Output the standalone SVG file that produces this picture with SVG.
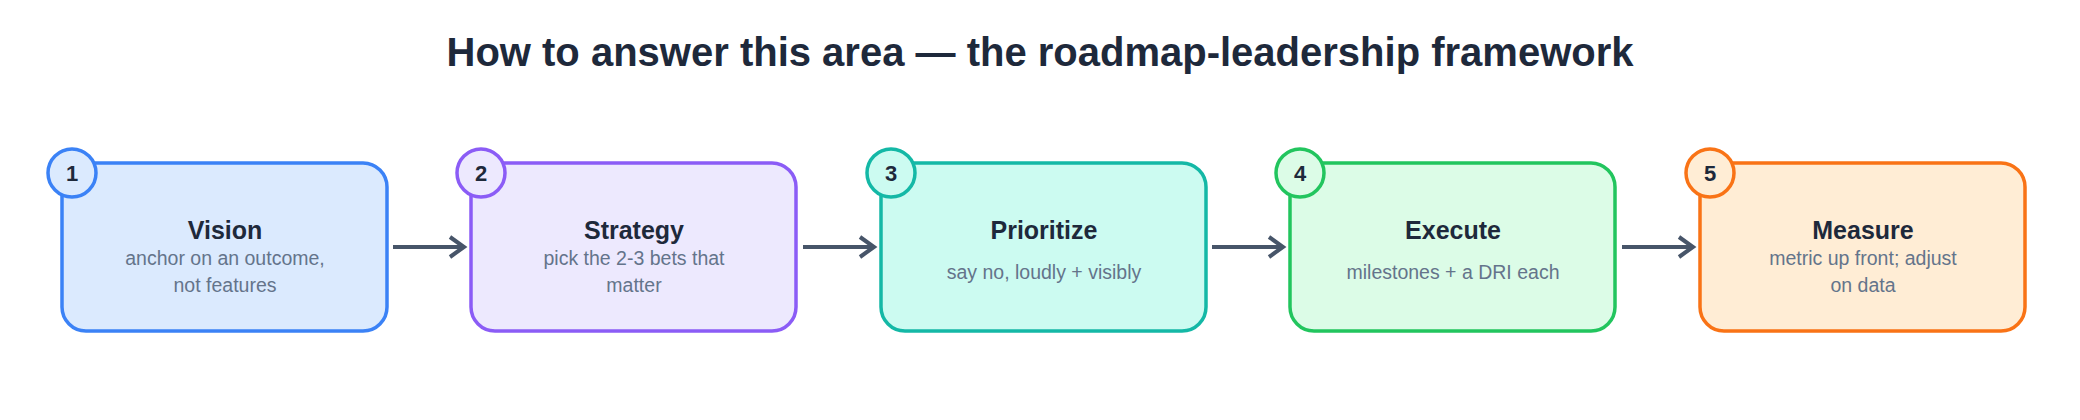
<svg xmlns="http://www.w3.org/2000/svg" width="2080" height="420" viewBox="0 0 2080 420">
<style>
.t{font-family:"Liberation Sans",Arial,sans-serif;text-anchor:middle}
.h{font-size:40px;font-weight:bold;fill:#1e293b}
.n{font-size:25px;font-weight:bold;fill:#1e293b}
.s{font-size:19.5px;fill:#64748b}
.c{font-size:22px;font-weight:bold;fill:#1e293b}
.b{stroke-width:3.5}
.e{stroke:#475569;stroke-width:4;fill:none}
</style>
<defs><marker id="a" viewBox="0 0 12 12" refX="10" refY="6" markerWidth="6" markerHeight="6" orient="auto" markerUnits="userSpaceOnUse"><path d="M1,1 L10,6 L1,11" fill="none" stroke="#475569" stroke-width="1" transform="scale(1)"/></marker></defs>
<rect width="2080" height="420" fill="#fff"/>
<text class="t h" x="1040" y="66">How to answer this area — the roadmap-leadership framework</text>
<g id="connectors">
<path class="e" d="M393,247 H463"/><path class="e" d="M450,237 L464,247 L450,257"/>
<path class="e" d="M803,247 H873"/><path class="e" d="M860,237 L874,247 L860,257"/>
<path class="e" d="M1212,247 H1282"/><path class="e" d="M1269,237 L1283,247 L1269,257"/>
<path class="e" d="M1622,247 H1692"/><path class="e" d="M1679,237 L1693,247 L1679,257"/>
</g>
<g id="n1"><rect class="b" x="62" y="163" width="325" height="168" rx="24" fill="#dbeafe" stroke="#3b82f6"/><circle class="b" cx="72" cy="173" r="24" fill="#dbeafe" stroke="#3b82f6"/><text class="t c" x="72" y="181">1</text>
<text class="t n" x="225" y="239">Vision</text><text class="t s" x="225" y="265">anchor on an outcome,</text><text class="t s" x="225" y="292">not features</text></g>
<g id="n2"><rect class="b" x="471" y="163" width="325" height="168" rx="24" fill="#ede9fe" stroke="#8b5cf6"/><circle class="b" cx="481" cy="173" r="24" fill="#ede9fe" stroke="#8b5cf6"/><text class="t c" x="481" y="181">2</text>
<text class="t n" x="634" y="239">Strategy</text><text class="t s" x="634" y="265">pick the 2-3 bets that</text><text class="t s" x="634" y="292">matter</text></g>
<g id="n3"><rect class="b" x="881" y="163" width="325" height="168" rx="24" fill="#ccfbf1" stroke="#14b8a6"/><circle class="b" cx="891" cy="173" r="24" fill="#ccfbf1" stroke="#14b8a6"/><text class="t c" x="891" y="181">3</text>
<text class="t n" x="1044" y="239">Prioritize</text><text class="t s" x="1044" y="279">say no, loudly + visibly</text></g>
<g id="n4"><rect class="b" x="1290" y="163" width="325" height="168" rx="24" fill="#dcfce7" stroke="#22c55e"/><circle class="b" cx="1300" cy="173" r="24" fill="#dcfce7" stroke="#22c55e"/><text class="t c" x="1300" y="181">4</text>
<text class="t n" x="1453" y="239">Execute</text><text class="t s" x="1453" y="279">milestones + a DRI each</text></g>
<g id="n5"><rect class="b" x="1700" y="163" width="325" height="168" rx="24" fill="#ffedd5" stroke="#f97316"/><circle class="b" cx="1710" cy="173" r="24" fill="#ffedd5" stroke="#f97316"/><text class="t c" x="1710" y="181">5</text>
<text class="t n" x="1863" y="239">Measure</text><text class="t s" x="1863" y="265">metric up front; adjust</text><text class="t s" x="1863" y="292">on data</text></g>
</svg>
